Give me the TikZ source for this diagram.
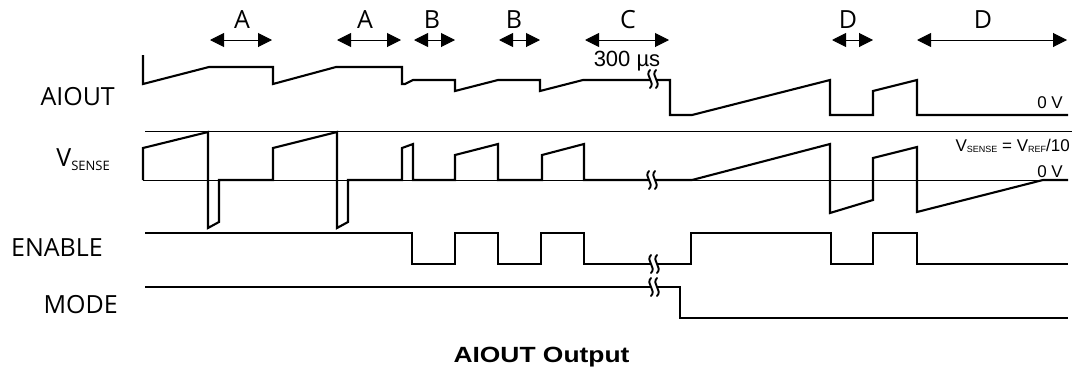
\documentclass[tikz,border=0pt]{standalone}
\usepackage{fontspec}
\setmainfont{Open Sans}
\newfontfamily\arialfont{Liberation Sans}
\newfontfamily\headfont{Liberation Sans Bold}[FakeStretch=1.2]
\usetikzlibrary{arrows.meta}
\tikzset{signal/.style={line width=2.1pt,line join=miter}}
\tikzset{refline/.style={line width=0.9pt}}
\tikzset{dim/.style={line width=1pt,{Triangle[length=14pt,width=14pt]}-{Triangle[length=14pt,width=14pt]}}}
\tikzset{siglabel/.style={font=\fontsize{25}{30}\selectfont,inner sep=0pt,anchor=base east}}
\tikzset{dimlabel/.style={font=\fontsize{25}{30}\selectfont,inner sep=0pt,anchor=base}}
\tikzset{note/.style={font=\arialfont\fontsize{17}{20}\selectfont,inner sep=0pt,anchor=base east}}
\tikzset{brk/.pic={
    \fill[white] (-3,-9) .. controls (-9,-3) and (3,3) .. (-3,9) -- (3,9) .. controls (9,3) and (-3,-3) .. (3,-9) -- cycle;
    \draw[line width=1.9pt,line cap=round] (-3,-9) .. controls (-9,-3) and (3,3) .. (-3,9);
    \draw[line width=1.9pt,line cap=round] (3,-9) .. controls (-3,-3) and (9,3) .. (3,9);
}}
\newcommand{\smallsub}[1]{\raisebox{-1pt}{\fontsize{9}{10}\selectfont #1}}

\begin{document}
\begin{tikzpicture}[x=1pt,y=-1pt]
    \useasboundingbox (0,0) rectangle (1075,370);

    % signal names
    \node[siglabel] (aiout) at (115,105) {AIOUT};
    \node[siglabel] (vsense) at (110,166.5) {V\raisebox{-4pt}{\fontsize{13}{14}\selectfont SENSE}};
    \node[siglabel] (enable) at (103,256.5) {ENABLE};
    \node[siglabel] (mode) at (118,313) {MODE};

    % interval arrows
    \foreach \xa/\xb/\xl/\lab [count=\i] in {210/272/242/A, 337/401/365/A, 414/455/432/B, 499/540/514/B, 585/669/628/C, 832/873/848/D, 917/1067/983/D} {
        \coordinate (dimL\i) at (\xa,40);
        \coordinate (dimR\i) at (\xb,40);
        \draw[dim] (dimL\i) -- (dimR\i);
        \node[dimlabel] (dimlab\i) at (\xl,28.5) {\lab};
    }
    \node[anchor=base,inner sep=0pt,font=\arialfont\fontsize{22}{24}\selectfont] (t300) at (627,66.5) {300 µs};

    % reference lines
    \draw[refline] (145,131.7) -- (1072,131.7);
    \draw[refline] (143,180) -- (1068,180);

    % AIOUT
    \draw[signal] (143,55) -- (143,84) -- (209,67) -- (273,67) -- (273,84) -- (336,67) -- (402,67) -- (402,84) -- (405,84) -- (413,80) -- (455,80) -- (455,91) -- (498,80) -- (540,80) -- (540,91) -- (583,80) -- (670,80) -- (670,115) -- (692,115) -- (830,80) -- (830,115) -- (873,115) -- (873,91) -- (917,80) -- (917,115) -- (1068,115);
    % VSENSE
    \draw[signal] (143,180) -- (143,148) -- (208,132) -- (208,228) -- (219,222) -- (219,180) -- (273,180) -- (273,148) -- (337,132) -- (337,228) -- (348,222) -- (348,180) -- (402,180) -- (402,148) -- (413,144) -- (413,180) -- (455,180) -- (455,155) -- (498,144) -- (498,180) -- (542,180) -- (542,155) -- (584,144) -- (584,180) -- (692,180) -- (830,144) -- (830,213) -- (873,200) -- (873,158) -- (917,147) -- (917,212) -- (1043,180) -- (1068,180);
    % ENABLE
    \draw[signal] (145,233) -- (412,233) -- (412,264) -- (455,264) -- (455,233) -- (498,233) -- (498,264) -- (541,264) -- (541,233) -- (584,233) -- (584,264) -- (691,264) -- (691,233) -- (831,233) -- (831,264) -- (873,264) -- (873,233) -- (917,233) -- (917,264) -- (1068,264);
    % MODE
    \draw[signal] (145,287) -- (680,287) -- (680,318) -- (1068,318);

    % time breaks
    \pic at (653,79) {brk};
    \pic at (652,180) {brk};
    \pic at (654,264) {brk};
    \pic at (654,287) {brk};

    \node[note] (zero1) at (1063,108) {0 V};
    \node[note] (vref) at (1070,151.5) {V\smallsub{SENSE} = V\smallsub{REF}/10};
    \node[note] (zero2) at (1063,177.5) {0 V};

    \node[anchor=base,inner sep=0pt,font=\headfont\fontsize{22}{24}\selectfont] (title) at (541.5,362) {AIOUT Output};
\end{tikzpicture}
\end{document}
